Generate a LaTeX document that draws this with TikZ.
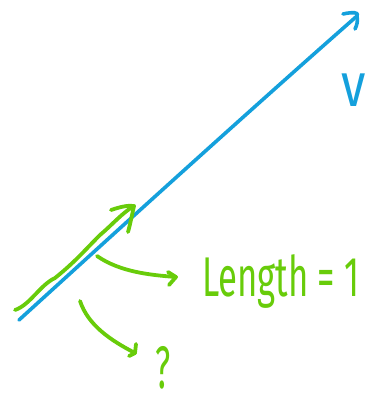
\documentclass[tikz,border=0pt]{standalone}
\usepackage{fontspec}
\setmainfont{Fira Sans}
\definecolor{skyblue}{RGB}{20,160,220}
\definecolor{leafgreen}{RGB}{104,204,10}
\begin{document}
\begin{tikzpicture}[x=1pt,y=-1pt,
  bluestroke/.style={draw=skyblue,line width=3.6pt,line cap=round,line join=round},
  greenstroke/.style={draw=leafgreen,line width=3.8pt,line cap=round,line join=round},
  greentext/.style={text=leafgreen,inner sep=0pt,anchor=base west}]
\useasboundingbox (0,0) rectangle (387,403);
% blue vector
\coordinate (b0) at (19,320);
\coordinate (b1) at (357,16);
\draw[bluestroke] (b0) .. controls (120,228) and (250,110) .. (b1);
\draw[bluestroke] (343,14) .. controls (352,12) and (360,12) .. (b1) .. controls (358,21) and (357,25) .. (355,29);
% green unit arrow
\coordinate (g0) at (15,310);
\coordinate (g1) at (134,206);
\draw[greenstroke] (g0) .. controls (30,305) and (40,285) .. (55,278)
  .. controls (75,262) and (85,250) .. (100,235) .. controls (112,225) and (122,213) .. (g1);
\draw[greenstroke] (111,210) .. controls (120,207) and (128,205) .. (g1) .. controls (132,215) and (130,225) .. (128,232);
% arrow to Length
\coordinate (a0) at (97,256);
\coordinate (a1) at (176,277);
\draw[greenstroke] (a0) .. controls (120,272) and (150,275) .. (a1);
\draw[greenstroke] (168,272) -- (a1) -- (169,285);
% arrow to ?
\coordinate (q0) at (80,301);
\coordinate (q1) at (135,353);
\draw[greenstroke] (q0) .. controls (88,325) and (110,340) .. (q1);
\draw[greenstroke] (136,344) -- (q1) -- (129,356);
% texts
\node[greentext,font=\fontsize{56}{60}\selectfont,xscale=0.62,transform shape] (len) at (202,296) {Length = 1};
\node[text=skyblue,inner sep=0pt,anchor=base west,font=\fontsize{62}{64}\selectfont,transform shape,xscale=0.8] (v) at (341,107) {v};
\node[greentext,font=\fontsize{60}{62}\selectfont,xscale=0.55,transform shape] (q) at (155,388) {?};
\end{tikzpicture}
\end{document}
